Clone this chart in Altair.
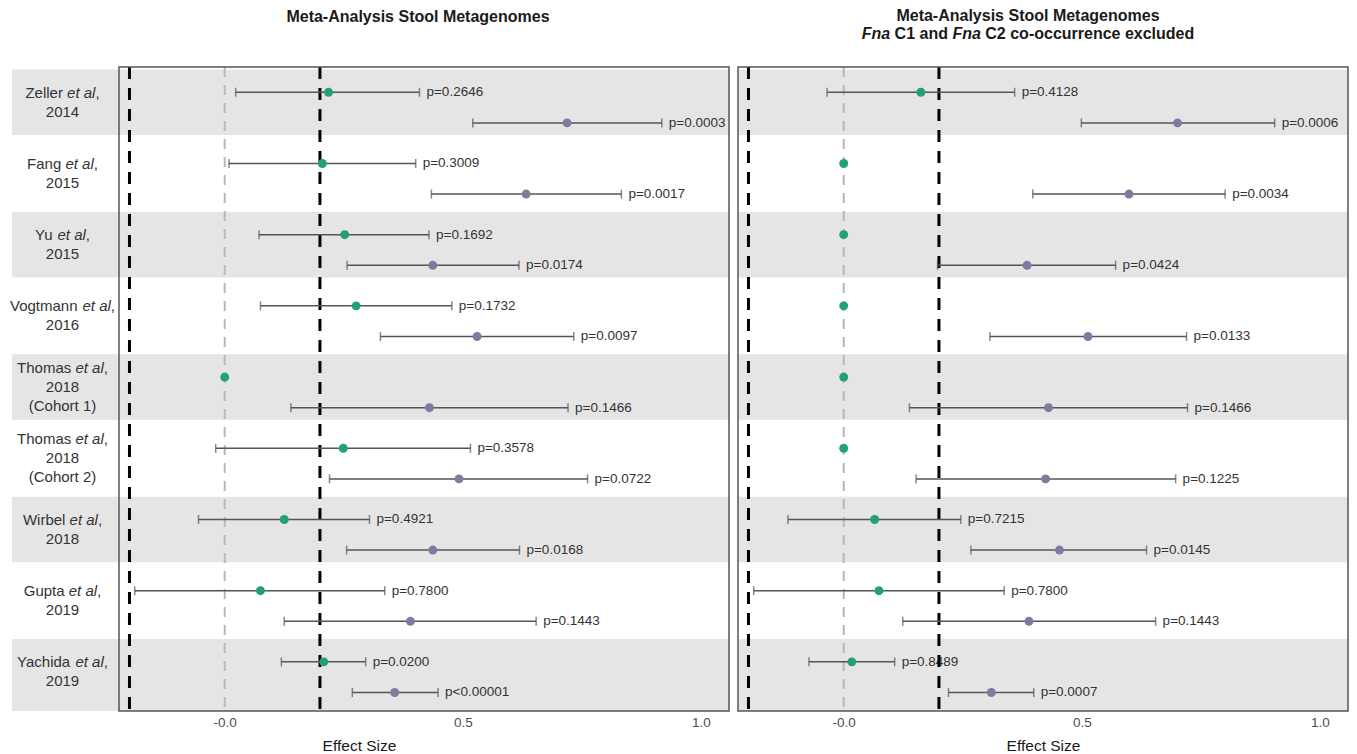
import altair as alt
import pandas as pd

# ---------------------------------------------------------------- data
STUDIES = ["Zeller", "Fang", "Yu", "Vogtmann", "Thomas", "Thomas", "Wirbel", "Gupta", "Yachida"]
YEARS = ["2014", "2015", "2015", "2016", "2018", "2018", "2018", "2019", "2019"]
COHORTS = ["", "", "", "", "(Cohort 1)", "(Cohort 2)", "", "", ""]

# all stool metagenomes: first clade (green) and second clade (purple)
ALL_C1_EST = [0.218, 0.205, 0.252, 0.276, 0.000, 0.249, 0.125, 0.075, 0.208]
ALL_C1_LO = [0.023, 0.009, 0.072, 0.075, None, -0.019, -0.055, -0.189, 0.119]
ALL_C1_HI = [0.409, 0.401, 0.429, 0.477, None, 0.516, 0.304, 0.336, 0.296]
ALL_C1_P = ["p=0.2646", "p=0.3009", "p=0.1692", "p=0.1732", "", "p=0.3578", "p=0.4921", "p=0.7800", "p=0.0200"]
ALL_C2_EST = [0.719, 0.633, 0.437, 0.530, 0.430, 0.492, 0.437, 0.390, 0.357]
ALL_C2_LO = [0.521, 0.434, 0.257, 0.327, 0.139, 0.220, 0.256, 0.125, 0.268]
ALL_C2_HI = [0.918, 0.833, 0.618, 0.733, 0.721, 0.762, 0.619, 0.654, 0.448]
ALL_C2_P = ["p=0.0003", "p=0.0017", "p=0.0174", "p=0.0097", "p=0.1466", "p=0.0722", "p=0.0168", "p=0.1443", "p<0.00001"]

# co-occurrence excluded
EXC_C1_EST = [0.162, 0.000, 0.000, 0.000, 0.000, 0.000, 0.065, 0.074, 0.017]
EXC_C1_LO = [-0.035, None, None, None, None, None, -0.117, -0.189, -0.073]
EXC_C1_HI = [0.359, None, None, None, None, None, 0.246, 0.337, 0.107]
EXC_C1_P = ["p=0.4128", "", "", "", "", "", "p=0.7215", "p=0.7800", "p=0.8489"]
EXC_C2_EST = [0.701, 0.599, 0.385, 0.513, 0.430, 0.424, 0.453, 0.389, 0.310]
EXC_C2_LO = [0.499, 0.397, 0.197, 0.307, 0.138, 0.152, 0.267, 0.124, 0.220]
EXC_C2_HI = [0.905, 0.801, 0.571, 0.720, 0.722, 0.697, 0.636, 0.655, 0.399]
EXC_C2_P = ["p=0.0006", "p=0.0034", "p=0.0424", "p=0.0133", "p=0.1466", "p=0.1225", "p=0.0145", "p=0.1443", "p=0.0007"]

THRESHOLDS = [-0.2, 0.2]
NULL_LINE = [0.0]
TICKS = [0.0, 0.5, 1.0]

# ---------------------------------------------------------------- style
FONT = "Liberation Sans"
GREEN = "#22a079"
PURPLE = "#7f7b9f"
ERR = "#555555"
BAND = "#e5e5e5"
FRAME = "#555555"
TEXT = "#333333"

W = 610          # plot panel width
GAP = 9          # gap in front of the second panel
H = 644          # plot height
LABEL_W = 107
LABEL_CX = 50.5
TITLE_CX = 299
X_DOMAIN = [-0.222, 1.059]
Y_DOMAIN = [-0.355, 8.69]
C2_OFFSET = 0.43
BAND_TOP, BAND_BOT = -0.32, 0.60
LINE_STEP = 0.265

# Arial-compatible advance widths (per 1000 em) for laying out mixed-style text
REG = {" ": 278, ",": 278, "(": 333, ")": 333, "a": 556, "b": 556, "c": 500, "d": 556,
       "e": 556, "g": 556, "h": 556, "i": 222, "l": 222, "m": 833, "n": 556, "o": 556,
       "p": 556, "r": 333, "s": 500, "t": 278, "u": 556, "C": 722, "F": 611, "G": 778,
       "T": 611, "V": 667, "W": 944, "Y": 667, "Z": 611}
BOLD = {" ": 278, "-": 333, "a": 556, "c": 556, "d": 611, "e": 556, "g": 611, "i": 278,
        "l": 278, "m": 889, "n": 611, "o": 611, "r": 389, "s": 556, "t": 333, "u": 611,
        "x": 556, "y": 556, "A": 722, "C": 722, "F": 611, "G": 778, "M": 833, "S": 667}


def text_width(s, size, bold=False):
    table = BOLD if bold else REG
    return sum(table.get(ch, 556) for ch in s) * size / 1000.0


y_scale = alt.Scale(domain=Y_DOMAIN, reverse=True, nice=False, zero=False)
ONE = pd.DataFrame({"k": [0]})

n = len(STUDIES)
bands_df = pd.DataFrame({
    "top": [i + BAND_TOP for i in range(0, n, 2)],
    "bot": [i + BAND_BOT if i < n - 1 else Y_DOMAIN[1] for i in range(0, n, 2)],
})


def x_axis(title_x):
    return alt.Axis(
        title="Effect Size", values=TICKS,
        labelExpr="datum.value == 0 ? '-0.0' : format(datum.value, '.1f')",
        ticks=False, tickSize=0, domain=False, grid=False,
        labelPadding=4, labelFontSize=13.5, labelColor="#4d4d4d", labelFont=FONT,
        titleFont=FONT, titleFontSize=15.5, titleFontWeight="normal", titleColor="#1a1a1a",
        titlePadding=10, titleX=title_x,
    )


def panel_data(c1_est, c1_lo, c1_hi, c1_p, c2_est, c2_lo, c2_hi, c2_p):
    rows = []
    for i in range(n):
        rows.append(dict(y=i, clade="C1", est=c1_est[i], lo=c1_lo[i], hi=c1_hi[i], p=c1_p[i]))
        rows.append(dict(y=i + C2_OFFSET, clade="C2", est=c2_est[i], lo=c2_lo[i], hi=c2_hi[i], p=c2_p[i]))
    return pd.DataFrame(rows)


def title_line(parts, center, y_px):
    """Bold title line built from (text, italic) pieces, centred on `center`."""
    total = sum(text_width(t, 16, bold=True) for t, _ in parts)
    x = center - total / 2
    layers = []
    for t, italic in parts:
        lead = len(t) - len(t.lstrip(" "))
        layers.append(
            alt.Chart(ONE).mark_text(
                text=t.strip(" "), align="left", baseline="middle", font=FONT, fontSize=16,
                fontWeight="bold", fontStyle="italic" if italic else "normal", color="#1a1a1a",
            ).encode(x=alt.value(x + text_width(t[:lead], 16, bold=True)), y=alt.value(y_px))
        )
        x += text_width(t, 16, bold=True)
    return layers


def panel(df, x0, width, title_lines, title_x):
    ax = x_axis(title_x)
    xs = alt.Scale(domain=X_DOMAIN, range=[x0, x0 + W], nice=False, zero=False)
    X = lambda f: alt.X(f, scale=xs, axis=ax)
    Y = alt.Y("y:Q", scale=y_scale, axis=None)
    base = alt.Chart(df)

    bands = alt.Chart(bands_df).mark_rect(color=BAND).encode(
        x=alt.value(x0), x2=alt.value(x0 + W),
        y=alt.Y("top:Q", scale=y_scale, axis=None), y2="bot:Q")
    plabels = base.transform_filter("datum.p != ''").mark_text(
        align="left", baseline="middle", dx=7, font=FONT, fontSize=13.5, color=TEXT
    ).encode(x=X("hi:Q"), y=Y, text="p:N")
    thr = alt.Chart(pd.DataFrame({"v": THRESHOLDS})).mark_rule(
        color="black", strokeWidth=3, strokeDash=[12, 9]).encode(x=X("v:Q"))
    nul = alt.Chart(pd.DataFrame({"v": NULL_LINE})).mark_rule(
        color="#b8b8b8", strokeWidth=2, strokeDash=[10, 8]).encode(x=X("v:Q"))
    bars = base.transform_filter("isValid(datum.lo)").mark_rule(
        color=ERR, strokeWidth=1.5).encode(x=X("lo:Q"), x2="hi:Q", y=Y)
    caps = base.transform_filter("isValid(datum.lo)").transform_fold(
        ["lo", "hi"], as_=["end", "xv"]).mark_tick(
        orient="vertical", size=9, thickness=1.5, color=ERR).encode(x=X("xv:Q"), y=Y)
    points = base.mark_circle(size=80, opacity=1).encode(
        x=X("est:Q"), y=Y,
        color=alt.Color("clade:N", scale=alt.Scale(domain=["C1", "C2"], range=[GREEN, PURPLE]), legend=None))
    frame = alt.Chart(ONE).mark_rect(filled=False, stroke=FRAME, strokeWidth=1.5).encode(
        x=alt.value(x0), x2=alt.value(x0 + W), y=alt.value(0), y2=alt.value(H))

    titles = []
    for parts, y_px in title_lines:
        titles += title_line(parts, TITLE_CX, y_px)

    return alt.layer(bands, plabels, thr, nul, bars, caps, points, frame, *titles).properties(
        width=width, height=H, view=alt.ViewBackground(stroke="transparent"))


# ---------------------------------------------------------------- study labels
label_rows = []
for i in range(n):
    lines = [[(STUDIES[i] + " ", "normal"), ("et al", "italic"), (",", "normal")],
             [(YEARS[i], "normal")]]
    if COHORTS[i]:
        lines.append([(COHORTS[i], "normal")])
    yc = i + (BAND_TOP + BAND_BOT) / 2
    for k, segs in enumerate(lines):
        total = sum(text_width(s, 15) for s, _ in segs)
        x = LABEL_CX - total / 2
        for s, st in segs:
            label_rows.append(dict(x=x, y=yc + (k - (len(lines) - 1) / 2) * LINE_STEP,
                                   text=s.rstrip(), style=st))
            x += text_width(s, 15)
labels_df = pd.DataFrame(label_rows)

lx = alt.X("x:Q", scale=alt.Scale(domain=[0, LABEL_W], nice=False, zero=False), axis=None)
ly = alt.Y("y:Q", scale=y_scale, axis=None)
label_bands = alt.Chart(bands_df).mark_rect(color=BAND).encode(
    x=alt.value(0), x2=alt.value(LABEL_W), y=alt.Y("top:Q", scale=y_scale, axis=None), y2="bot:Q")
label_upright = alt.Chart(labels_df).transform_filter("datum.style == 'normal'").mark_text(
    align="left", baseline="middle", font=FONT, fontSize=15, color=TEXT).encode(x=lx, y=ly, text="text:N")
label_italic = alt.Chart(labels_df).transform_filter("datum.style == 'italic'").mark_text(
    align="left", baseline="middle", font=FONT, fontSize=15, fontStyle="italic", color=TEXT
).encode(x=lx, y=ly, text="text:N")
label_panel = alt.layer(label_bands, label_upright, label_italic).properties(
    width=LABEL_W, height=H, view=alt.ViewBackground(stroke="transparent"))

# ---------------------------------------------------------------- panels
left = panel(
    panel_data(ALL_C1_EST, ALL_C1_LO, ALL_C1_HI, ALL_C1_P, ALL_C2_EST, ALL_C2_LO, ALL_C2_HI, ALL_C2_P),
    0, W,
    [([("Meta-Analysis Stool Metagenomes", False)], -50)],
    240,
)
right = panel(
    panel_data(EXC_C1_EST, EXC_C1_LO, EXC_C1_HI, EXC_C1_P, EXC_C2_EST, EXC_C2_LO, EXC_C2_HI, EXC_C2_P),
    GAP, W + GAP,
    [([("Meta-Analysis Stool Metagenomes", False)], -51),
     ([("Fna", True), (" C1 and ", False), ("Fna", True), (" C2 co-occurrence excluded", False)], -33)],
    GAP + W / 2,
)

chart = alt.hconcat(label_panel, left, right, spacing=0, bounds="flush").properties(
    padding={"left": 9, "top": 7, "right": 5, "bottom": 1}
).configure_view(stroke="transparent")

chart.save("out.html", embed_options={"renderer": "svg", "actions": False})
